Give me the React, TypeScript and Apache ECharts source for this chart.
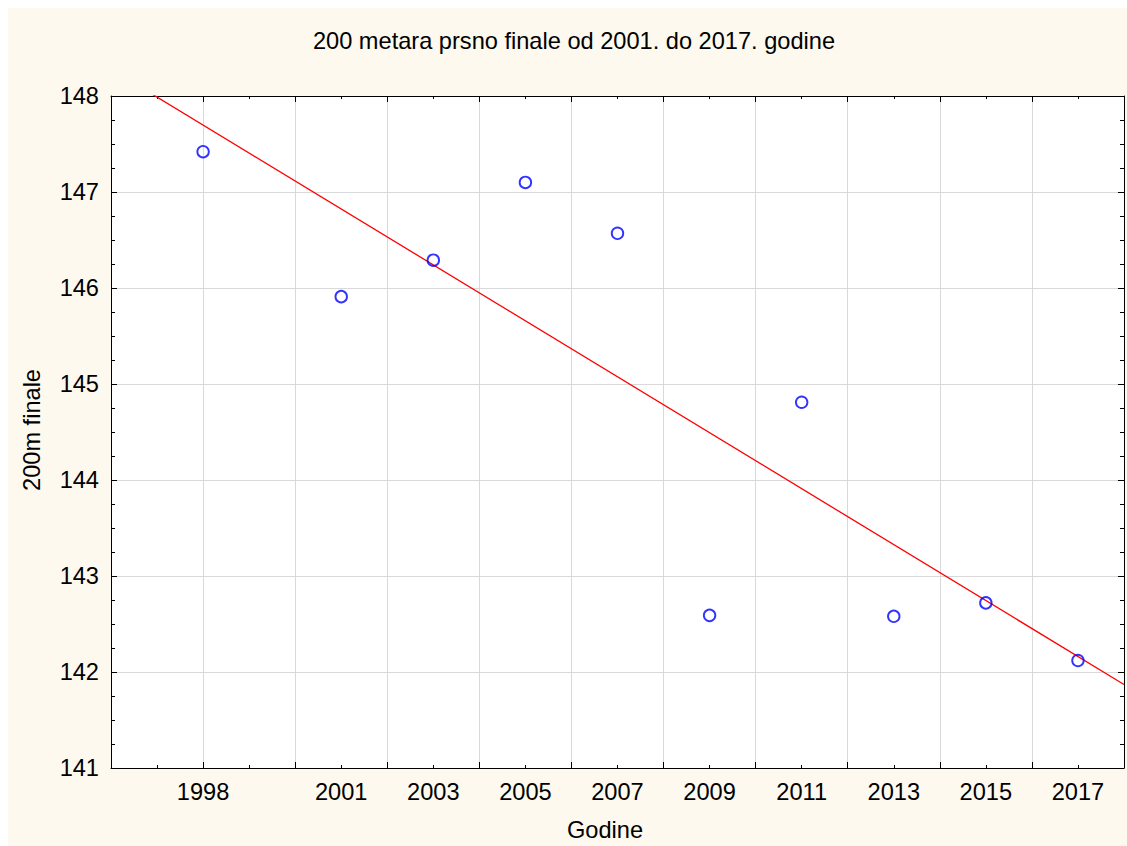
import React, { useEffect, useRef } from 'react';
import * as echarts from 'echarts';

// Data
const years = [1998, 2001, 2003, 2005, 2007, 2009, 2011, 2013, 2015, 2017];
const times = [147.42, 145.91, 146.29, 147.1, 146.57, 142.59, 144.81, 142.58, 142.72, 142.12];
const labelYears = [1998, 2001, 2003, 2005, 2007, 2009, 2011, 2013, 2015, 2017];
const trendYears = [1996, 2018];
const trendValues = [148.28, 141.87];

const titleText = '200 metara prsno finale od 2001. do 2017. godine';
const xName = 'Godine';
const yName = '200m finale';

const FONT = '"Liberation Sans", Arial, Helvetica, sans-serif';
const AXIS_COLOR = '#000000';
const GRID_COLOR = '#d9d9d9';
const FS = 23.6;

export default function App() {
  const ref = useRef<HTMLDivElement>(null);

  useEffect(() => {
    if (!ref.current) return;
    const chart = echarts.init(ref.current, undefined, { renderer: 'svg' });

    const tickAxisBase = {
      type: 'value' as const,
      min: 1996,
      max: 2018,
      interval: 2,
      axisTick: { show: true, inside: true, length: 6, lineStyle: { color: AXIS_COLOR, width: 1 } },
      minorTick: { show: true, splitNumber: 2, length: 3, lineStyle: { color: AXIS_COLOR, width: 1 } },
      axisLabel: { show: false },
    };

    const yBase = {
      type: 'value' as const,
      min: 141,
      max: 148,
      interval: 1,
      axisLine: { show: true, onZero: false, lineStyle: { color: AXIS_COLOR, width: 1 } },
      axisTick: { show: true, inside: true, length: 6, lineStyle: { color: AXIS_COLOR, width: 1 } },
      minorTick: { show: true, splitNumber: 4, length: 4, lineStyle: { color: AXIS_COLOR, width: 1 } },
    };

    chart.setOption({
      animation: false,
      backgroundColor: '#fdf9ee',
      grid: {
        left: 103,
        top: 88,
        right: 2,
        bottom: 78,
        show: true,
        backgroundColor: '#ffffff',
        borderWidth: 0,
      },
      graphic: [
        {
          type: 'text',
          x: 566,
          y: 33,
          style: {
            text: titleText,
            fontSize: FS,
            fontFamily: FONT,
            fill: '#000',
            align: 'center',
            verticalAlign: 'middle',
          },
        },
        {
          type: 'text',
          x: 597,
          y: 822,
          style: {
            text: xName,
            fontSize: FS,
            fontFamily: FONT,
            fill: '#000',
            align: 'center',
            verticalAlign: 'middle',
          },
        },
        {
          type: 'text',
          x: 24,
          y: 422,
          rotation: Math.PI / 2,
          style: {
            text: yName,
            fontSize: FS,
            fontFamily: FONT,
            fill: '#000',
            align: 'center',
            verticalAlign: 'middle',
          },
        },
      ],
      xAxis: [
        {
          type: 'value',
          position: 'bottom',
          min: 1996,
          max: 2018,
          interval: 1,
          axisLine: { show: true, onZero: false, lineStyle: { color: AXIS_COLOR, width: 1 } },
          axisTick: { show: false },
          splitLine: { show: false },
          axisLabel: {
            show: true,
            margin: 12,
            fontSize: FS,
            fontFamily: FONT,
            color: '#000',
            formatter: (v: number) => (labelYears.includes(Math.round(v)) ? String(Math.round(v)) : ''),
          },
        },
        {
          ...tickAxisBase,
          position: 'bottom',
          axisLine: { show: false, onZero: false },
          splitLine: { show: true, lineStyle: { color: GRID_COLOR, width: 1 } },
        },
        {
          ...tickAxisBase,
          position: 'top',
          axisLine: { show: true, onZero: false, lineStyle: { color: AXIS_COLOR, width: 1 } },
          splitLine: { show: false },
        },
      ],
      yAxis: [
        {
          ...yBase,
          position: 'left',
          splitLine: { show: true, lineStyle: { color: GRID_COLOR, width: 1 } },
          axisLabel: { show: true, margin: 12, fontSize: FS, fontFamily: FONT, color: '#000' },
        },
        {
          ...yBase,
          position: 'right',
          splitLine: { show: false },
          axisLabel: { show: false },
        },
      ],
      series: [
        {
          type: 'line',
          xAxisIndex: 0,
          yAxisIndex: 0,
          data: trendYears.map((x, i) => [x, trendValues[i]]),
          showSymbol: false,
          symbol: 'none',
          clip: true,
          lineStyle: { color: '#ff0000', width: 1.3 },
          silent: true,
          z: 2,
        },
        {
          type: 'scatter',
          xAxisIndex: 0,
          yAxisIndex: 0,
          data: years.map((x, i) => [x, times[i]]),
          symbol: 'circle',
          symbolSize: 11.5,
          itemStyle: { color: 'rgba(0,0,0,0)', borderColor: '#0000ff', borderWidth: 1.9 },
          emphasis: { disabled: true },
          silent: true,
          z: 3,
        },
      ],
    });

    return () => chart.dispose();
  }, []);

  return (
    <div
      ref={ref}
      style={{ position: 'absolute', left: 8, top: 8, width: 1119, height: 838 }}
    />
  );
}
